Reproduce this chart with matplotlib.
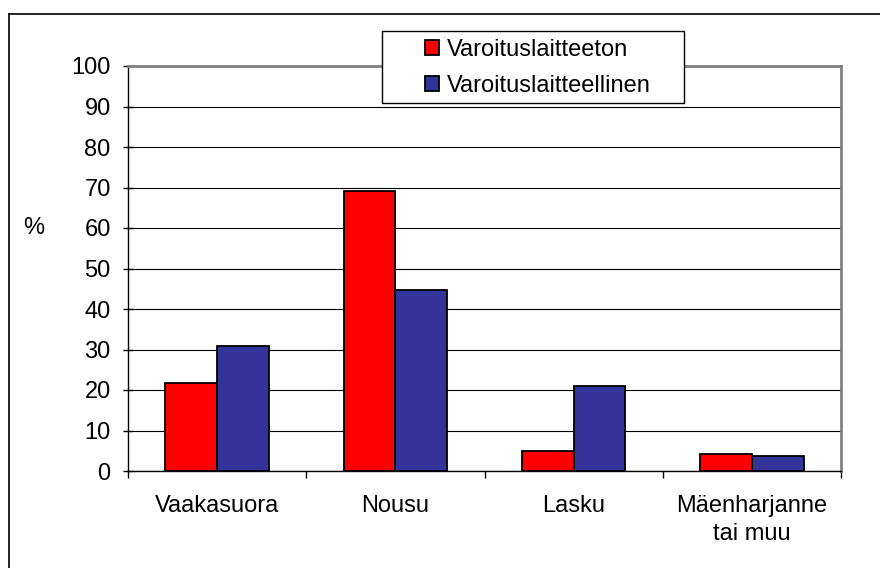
import matplotlib
matplotlib.use("Agg")
import matplotlib.pyplot as plt
from matplotlib.lines import Line2D
from matplotlib.patches import Rectangle
import numpy as np

plt.rcParams['font.family'] = ['Liberation Sans', 'DejaVu Sans']
plt.rcParams['font.size'] = 17

categories = ['Vaakasuora', 'Nousu', 'Lasku', 'Mäenharjanne\ntai muu']
ilman = [21.7, 69.1, 5.0, 4.1]      # Varoituslaitteeton
kanssa = [30.9, 44.7, 20.9, 3.7]    # Varoituslaitteellinen
series_names = ['Varoituslaitteeton', 'Varoituslaitteellinen']
yticks = list(range(0, 101, 10))

fig = plt.figure(figsize=(8.8, 5.68), dpi=100)
ax = fig.add_axes([128/880, 1 - 471/568, (841 - 128)/880, (471 - 66)/568])

x = np.arange(len(categories))
w = 0.29
b1 = ax.bar(x - w/2, ilman, w, color='#FF0000', edgecolor='black', linewidth=1.3,
            label=series_names[0], zorder=3)
b2 = ax.bar(x + w/2, kanssa, w, color='#333399', edgecolor='black', linewidth=1.3,
            label=series_names[1], zorder=3)

ax.set_xlim(-0.5, len(categories) - 0.5)
ax.set_ylim(0, 100)
ax.set_yticks(yticks)
ax.yaxis.grid(True, color='black', linewidth=0.8, zorder=0)
ax.set_axisbelow(True)

# category labels between boundary ticks
ax.set_xticks(np.arange(-0.5, len(categories), 1.0))
ax.set_xticklabels([])
ax.set_xticks(x, minor=True)
ax.set_xticklabels(categories, minor=True, linespacing=1.4)
ax.tick_params(axis='x', which='major', direction='out', length=5, width=1)
ax.tick_params(axis='x', which='minor', length=0, pad=17)
ax.tick_params(axis='y', direction='inout', length=7, width=1, pad=9)

for s in ['top', 'right']:
    ax.spines[s].set_color('#808080')
    ax.spines[s].set_linewidth(2)
for s in ['left', 'bottom']:
    ax.spines[s].set_color('black')
    ax.spines[s].set_linewidth(1)

fig.text(34/880, 1 - 228/568, '%', ha='center', va='center', fontsize=17)

# legend box
box = Rectangle((382/880, 1 - 103/568), (684 - 382)/880, (103 - 31)/568,
                transform=fig.transFigure, facecolor='white', edgecolor='black',
                linewidth=1, zorder=5)
fig.add_artist(box)
leg = fig.legend(handles=[b1, b2], loc='center',
                 bbox_to_anchor=(538/880, 1 - 68/568), bbox_transform=fig.transFigure,
                 frameon=False, handlelength=0.6, handleheight=0.6,
                 handletextpad=0.35, labelspacing=0.6, fontsize=17)
leg.set_zorder(6)

# outer border of the chart area
fig.add_artist(Line2D([8.5/880, 1], [1 - 13.5/568, 1 - 13.5/568],
                      transform=fig.transFigure, color='black', linewidth=1.2))
fig.add_artist(Line2D([8.5/880, 8.5/880], [0, 1 - 13.5/568],
                      transform=fig.transFigure, color='black', linewidth=1.2))

fig.savefig('out.png', dpi=100)
